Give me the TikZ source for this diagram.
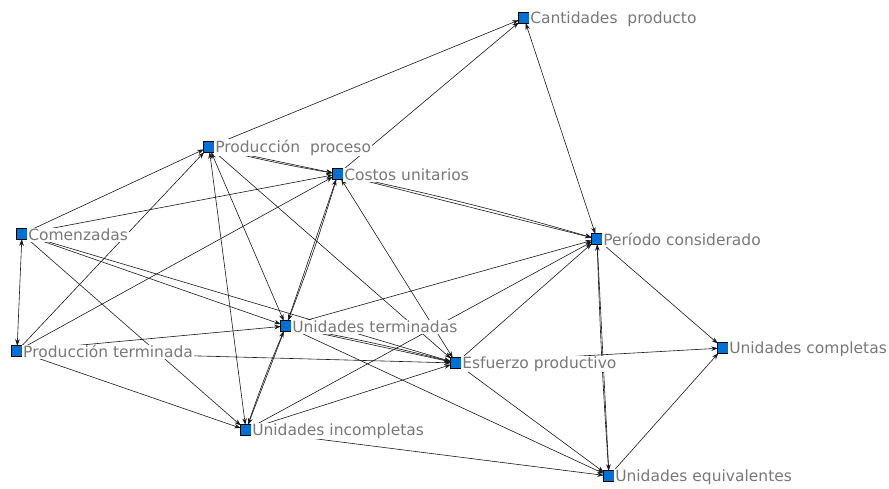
\documentclass[tikz,border=0pt]{standalone}
\usepackage{fontspec}
\setmainfont{DejaVu Sans}
\usetikzlibrary{arrows.meta}
\definecolor{sqblue}{RGB}{0,112,210}
\definecolor{labgray}{RGB}{120,120,120}
\begin{document}
\begin{tikzpicture}[x=1pt,y=-1pt,
  sq/.style={draw=black,line width=0.7pt,fill=sqblue,minimum size=10.5pt,inner sep=0pt,outer sep=0pt},
  lab/.style={anchor=west,fill=white,inner sep=0.8pt,text=labgray,font=\fontsize{15.5}{17}\selectfont,yshift=-0.8pt},
  e/.style={draw=black!90,line width=0.6pt,-{Stealth[length=6.5pt,width=4.6pt]}},
  ee/.style={draw=black!90,line width=0.6pt,{Stealth[length=6.5pt,width=4.6pt]}-{Stealth[length=6.5pt,width=4.6pt]}}]
\useasboundingbox[fill=white] (0,0) rectangle (889,489);
% squares
\node[sq] (CP) at (524,18) {};
\node[sq] (PP) at (209,147) {};
\node[sq] (CU) at (338,174) {};
\node[sq] (CO) at (22,234) {};
\node[sq] (PC) at (597,239) {};
\node[sq] (UT) at (286,326) {};
\node[sq] (PT) at (17,351) {};
\node[sq] (EP) at (456,363) {};
\node[sq] (UC) at (723,348) {};
\node[sq] (UI) at (246,430) {};
\node[sq] (UE) at (609,476) {};
% connectors
\draw[e] (PP) -- (CP);
\draw[e] (CU) -- (CP);
\draw[ee] (PC) -- (CP);
\draw[e] (PP) -- (CU);
\draw[e] (PP) to[bend right=2] (CU);
\draw[e] (CU) -- (PC);
\draw[e] (CU) to[bend left=2] (PC);
\draw[e] (CO) -- (PP);
\draw[e] (CO) -- (CU);
\draw[ee] (CO) -- (PT);
\draw[e] (CO) -- (UT);
\draw[e] (CO) -- (EP);
\draw[e] (CO) -- (UI);
\draw[e] (PT) -- (PP);
\draw[e] (PT) -- (CU);
\draw[e] (PT) -- (UT);
\draw[e] (PT) -- (EP);
\draw[e] (PT) -- (UI);
\draw[ee] (PP) -- (UT);
\draw[ee] (PP) -- (UI);
\draw[e] (PP) -- (EP);
\draw[e] (UT) -- (CU);
\draw[e] (CU) to[bend left=2] (UT);
\draw[ee] (CU) -- (EP);
\draw[e] (UT) -- (UI);
\draw[e] (UI) to[bend left=2] (UT);
\draw[e] (UT) -- (EP);
\draw[e] (UT) to[bend left=2] (EP);
\draw[e] (UT) -- (PC);
\draw[e] (UT) -- (UE);
\draw[e] (UI) -- (EP);
\draw[e] (UI) -- (PC);
\draw[e] (UI) -- (UE);
\draw[e] (EP) -- (PC);
\draw[e] (EP) -- (UC);
\draw[e] (EP) -- (UE);
\draw[e] (PC) -- (UC);
\draw[e] (UE) -- (UC);
\draw[e] (PC) -- (UE);
\draw[e] (UE) to[bend left=1] (PC);
% labels
\node[lab] (CPt) at (CP.east) {Cantidades~~producto};
\node[lab] (PPt) at (PP.east) {Producción~~proceso};
\node[lab] (CUt) at (CU.east) {Costos unitarios};
\node[lab] (COt) at (CO.east) {Comenzadas};
\node[lab] (PCt) at (PC.east) {Período considerado};
\node[lab] (UTt) at (UT.east) {Unidades terminadas};
\node[lab] (PTt) at (PT.east) {Producción terminada};
\node[lab] (EPt) at (EP.east) {Esfuerzo productivo};
\node[lab] (UCt) at (UC.east) {Unidades completas};
\node[lab] (UIt) at (UI.east) {Unidades incompletas};
\node[lab] (UEt) at (UE.east) {Unidades equivalentes};
\end{tikzpicture}
\end{document}
